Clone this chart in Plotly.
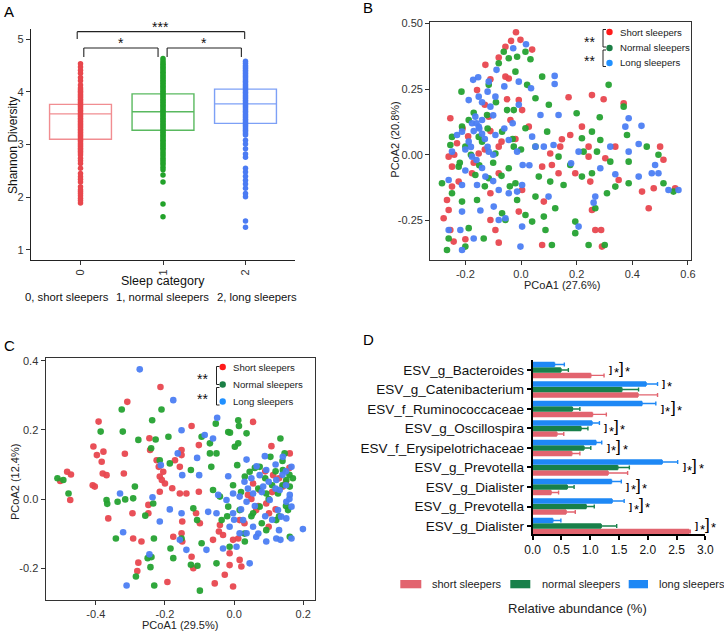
import plotly.graph_objects as go

W, H = 724, 632
FONT = "Arial, Liberation Sans, Helvetica, sans-serif"


def px(x):
    return x / W


def py(y):
    return 1 - y / H


# ---------------- Panel A data ----------------
a_categories = [0, 1, 2]
a_tick_labels = ["0", "1", "2"]
a_group_labels = ["0, short sleepers", "1, normal sleepers", "2, long sleepers"]
a_q1 = [3.10, 3.27, 3.40]
a_median = [3.58, 3.62, 3.77]
a_q3 = [3.76, 3.96, 4.05]
a_short = [1.89, 1.94, 1.98, 2.03, 2.07, 2.11, 2.14, 2.20, 2.29, 2.34, 2.39, 2.45, 2.55, 2.64,
           2.69, 2.74, 2.80, 2.84, 2.87, 2.90, 2.93, 2.96, 2.99, 3.02, 3.05, 3.08, 3.11, 3.14,
           3.17, 3.20, 3.23, 3.26, 3.29, 3.32, 3.35, 3.38, 3.41, 3.44, 3.47, 3.50, 3.53, 3.56,
           3.59, 3.62, 3.65, 3.68, 3.71, 3.74, 3.77, 3.80, 3.83, 3.86, 3.89, 3.92, 3.95, 3.98,
           4.01, 4.04, 4.07, 4.13, 4.21, 4.27, 4.35, 4.41, 4.47, 4.53]
a_normal = [1.63, 1.87, 2.29, 2.42, 2.52, 2.57, 2.62, 2.66, 2.70, 2.74, 2.78, 2.82, 2.86, 2.90,
            2.93, 2.96, 2.99, 3.02, 3.05, 3.08, 3.11, 3.14, 3.17, 3.20, 3.23, 3.26, 3.29, 3.32,
            3.35, 3.38, 3.41, 3.44, 3.47, 3.50, 3.53, 3.56, 3.59, 3.62, 3.65, 3.68, 3.71, 3.74,
            3.77, 3.80, 3.83, 3.86, 3.89, 3.92, 3.95, 3.98, 4.01, 4.04, 4.07, 4.10, 4.13, 4.16,
            4.19, 4.22, 4.25, 4.28, 4.31, 4.34, 4.37, 4.40, 4.43, 4.46, 4.49, 4.52, 4.55, 4.59,
            4.63]
a_long = [1.43, 1.55, 2.01, 2.07, 2.17, 2.25, 2.32, 2.40, 2.48, 2.55, 2.76, 2.82, 2.92, 3.01,
          3.08, 3.18, 3.21, 3.24, 3.27, 3.30, 3.33, 3.36, 3.39, 3.42, 3.45, 3.48, 3.51, 3.54,
          3.57, 3.60, 3.63, 3.66, 3.69, 3.72, 3.75, 3.78, 3.81, 3.84, 3.87, 3.90, 3.93, 3.96,
          3.99, 4.02, 4.05, 4.08, 4.11, 4.14, 4.17, 4.20, 4.23, 4.26, 4.29, 4.32, 4.35, 4.38,
          4.41, 4.44, 4.47, 4.50, 4.54, 4.58]
a_sig_from = [0, 1, 0]
a_sig_to = [1, 2, 2]
a_sig_text = ["*", "*", "***"]
a_sig_level = [4.83, 4.83, 5.14]
a_sig_leg = [4.66, 4.66, 5.00]

# ---------------- Panel B data (PCoA1, PCoA2) ----------------
b_short = [(-0.018, 0.466), (-0.002, 0.437), (-0.036, 0.433), (-0.056, 0.411), (-0.08, 0.37),
           (-0.128, 0.342), (0.04, 0.40), (-0.056, 0.297), (-0.044, 0.29), (-0.11, 0.287),
           (-0.158, 0.246), (-0.05, 0.211), (-0.008, 0.208), (0.004, 0.17), (0.171, 0.219),
           (0.255, 0.227), (0.297, 0.211), (0.369, 0.196), (-0.254, 0.139), (0.219, 0.107),
           (-0.116, 0.145), (-0.038, 0.132), (0.028, 0.107), (-0.23, 0.044), (0.147, 0.059),
           (0.177, 0.075), (0.243, 0.031), (0.339, 0.031), (0.50, 0.031), (-0.26, -0.007),
           (-0.152, 0.005), (-0.08, 0.031), (0.105, 0.005), (0.111, -0.039), (0.243, -0.007),
           (0.303, -0.013), (0.512, -0.019), (-0.248, -0.045), (-0.224, -0.102), (-0.248, -0.121),
           (-0.176, -0.07), (-0.08, -0.07), (0.076, -0.045), (0.135, -0.07), (0.249, -0.102),
           (0.351, -0.096), (0.435, -0.14), (0.477, -0.127), (0.554, -0.127), (-0.266, -0.172),
           (-0.26, -0.21), (-0.278, -0.241), (-0.254, -0.286), (-0.242, -0.33), (-0.20, -0.321),
           (-0.11, -0.146), (-0.11, -0.248), (-0.092, -0.286), (-0.08, -0.334), (-0.008, -0.216),
           (0.004, -0.134), (0.082, -0.178), (0.076, -0.343), (0.255, -0.21), (0.267, -0.286),
           (0.288, -0.286), (0.291, -0.349), (0.459, -0.203), (0.195, -0.07), (0.141, 0.031),
           (-0.19, 0.07), (-0.13, 0.02), (-0.17, -0.03), (-0.11, 0.09), (-0.07, 0.05),
           (-0.21, 0.10), (-0.24, 0.0), (-0.13, 0.19), (-0.02, 0.06)]
b_normal = [(-0.062, 0.392), (-0.044, 0.367), (-0.014, 0.373), (0.016, 0.392), (0.034, 0.363),
            (-0.08, 0.348), (-0.02, 0.316), (0.076, 0.297), (0.022, 0.266), (-0.116, 0.266),
            (-0.214, 0.24), (0.315, 0.266), (0.10, 0.19), (0.20, 0.158), (0.283, 0.143),
            (0.369, 0.183), (0.052, 0.215), (-0.026, 0.17), (-0.122, 0.151), (-0.188, 0.132),
            (-0.248, 0.068), (-0.212, 0.107), (-0.152, 0.068), (-0.068, 0.088), (0.016, 0.101),
            (0.094, 0.088), (0.219, 0.063), (0.255, 0.088), (0.285, 0.056), (0.381, 0.075),
            (-0.254, 0.037), (-0.20, 0.031), (-0.092, 0.005), (-0.026, 0.031), (0.052, 0.031),
            (0.135, -0.007), (0.225, 0.012), (0.273, 0.012), (0.321, -0.026), (0.387, -0.026),
            (0.452, 0.031), (0.494, 0.0), (-0.284, -0.108), (-0.224, -0.045), (-0.164, -0.077),
            (-0.116, -0.089), (-0.044, -0.051), (-0.02, -0.108), (0.064, -0.083), (0.105, -0.102),
            (0.153, -0.115), (0.177, -0.039), (0.219, -0.083), (0.255, -0.07), (0.309, -0.146),
            (0.339, -0.121), (0.387, -0.108), (0.512, -0.108), (0.548, -0.14), (-0.248, -0.146),
            (-0.212, -0.178), (-0.158, -0.172), (-0.26, -0.318), (-0.266, -0.362), (-0.188, -0.279),
            (-0.20, -0.349), (-0.134, -0.318), (-0.068, -0.222), (-0.056, -0.248), (-0.014, -0.172),
            (0.04, -0.254), (0.052, -0.159), (0.088, -0.286), (0.082, -0.235), (0.111, -0.343),
            (0.123, -0.203), (0.195, -0.254), (0.195, -0.298), (0.267, -0.203), (0.243, -0.343),
            (0.301, -0.343), (0.016, -0.229), (-0.17, 0.16), (-0.14, 0.05), (-0.12, 0.10),
            (-0.18, 0.0), (-0.10, -0.03), (-0.07, -0.08), (-0.13, -0.12), (-0.03, 0.06),
            (-0.09, 0.20), (-0.05, 0.17), (-0.22, -0.03), (-0.15, -0.04), (-0.04, -0.12),
            (0.0, 0.02)]
b_long = [(0.018, 0.42), (-0.028, 0.405), (-0.088, 0.323), (-0.154, 0.295), (-0.172, 0.285),
          (-0.116, 0.278), (-0.008, 0.278), (0.036, 0.253), (0.121, 0.30), (0.121, 0.269),
          (-0.188, 0.208), (-0.152, 0.221), (-0.092, 0.221), (-0.11, 0.183), (-0.008, 0.19),
          (0.07, 0.151), (0.135, 0.151), (-0.164, 0.145), (-0.152, 0.107), (-0.176, 0.12),
          (-0.14, 0.132), (-0.23, 0.075), (-0.212, 0.088), (-0.188, 0.05), (-0.092, 0.075),
          (-0.044, 0.056), (0.04, 0.069), (0.052, 0.031), (0.117, 0.037), (0.321, 0.031),
          (0.375, 0.107), (0.387, 0.139), (0.433, 0.11), (0.387, 0.012), (0.423, 0.041),
          (-0.248, 0.012), (-0.176, -0.007), (-0.116, 0.012), (-0.014, 0.012), (0.006, -0.039),
          (0.03, -0.04), (0.082, 0.031), (0.18, -0.032), (0.207, 0.012), (0.285, -0.051),
          (0.339, -0.074), (0.423, -0.083), (0.482, -0.039), (0.494, -0.07), (0.47, -0.07),
          (0.566, -0.134), (0.53, -0.134), (-0.26, -0.096), (-0.212, -0.115), (-0.158, -0.115),
          (-0.128, -0.083), (-0.08, -0.134), (0.004, -0.115), (-0.212, -0.216), (-0.146, -0.212),
          (-0.098, -0.197), (-0.044, -0.146), (-0.014, -0.14), (-0.08, -0.248), (-0.056, -0.241),
          (0.004, -0.273), (-0.26, -0.286), (-0.218, -0.286), (-0.17, -0.318), (-0.212, -0.362),
          (-0.002, -0.349), (0.207, -0.273), (0.261, -0.182), (0.267, -0.159), (0.099, -0.159),
          (-0.16, 0.12), (-0.15, 0.10), (-0.17, 0.09), (-0.14, 0.08), (-0.13, 0.06),
          (-0.20, 0.02), (-0.18, 0.03), (-0.12, 0.03), (-0.10, 0.0), (-0.16, -0.02),
          (-0.14, -0.05), (-0.20, -0.06), (-0.10, -0.10), (-0.06, 0.10), (-0.10, 0.15),
          (-0.12, 0.24), (-0.14, 0.20), (-0.06, 0.26), (-0.03, 0.12)]

# ---------------- Panel C data (PCoA1, PCoA2) ----------------
c_short = [(-0.213, 0.324), (-0.309, 0.281), (-0.392, 0.224), (-0.407, 0.152), (-0.397, 0.127),
           (-0.378, 0.137), (-0.383, 0.108), (-0.38, 0.074), (-0.369, 0.069), (-0.409, 0.04),
           (-0.403, 0.036), (-0.503, 0.052), (-0.472, 0.071), (-0.483, 0.079), (-0.474, -0.003),
           (-0.364, -0.056), (-0.316, 0.131), (-0.319, 0.074), (-0.294, -0.041), (-0.292, -0.114),
           (-0.268, -0.123), (-0.248, -0.041), (-0.277, -0.184), (-0.28, -0.208), (-0.193, -0.24),
           (-0.218, 0.093), (-0.215, 0.065), (-0.205, 0.079), (-0.209, 0.055), (-0.224, 0.112),
           (-0.20, 0.045), (-0.215, 0.021), (-0.245, 0.176), (-0.243, 0.142), (-0.248, -0.017),
           (-0.171, 0.112), (-0.157, 0.093), (-0.152, 0.127), (-0.152, 0.142), (-0.179, 0.031),
           (-0.157, 0.016), (-0.123, 0.211), (-0.102, 0.156), (-0.102, 0.021), (-0.11, -0.041),
           (-0.138, 0.016), (-0.15, -0.065), (-0.176, -0.109), (-0.152, -0.099), (-0.15, -0.123),
           (-0.123, -0.167), (-0.118, -0.20), (-0.056, -0.244), (-0.013, -0.191), (-0.027, -0.219),
           (-0.003, -0.253), (0.016, -0.176), (0.021, -0.195), (-0.013, -0.157), (-0.044, -0.094),
           (-0.041, -0.075), (-0.061, -0.118), (-0.032, -0.104), (-0.003, -0.118), (0.012, -0.114),
           (0.055, 0.223), (0.108, 0.153), (0.161, 0.132), (0.055, 0.045), (0.074, 0.026),
           (0.093, -0.013), (0.113, 0.069), (0.141, 0.036), (0.064, -0.032), (0.04, 0.012),
           (0.101, -0.041), (0.016, -0.061), (-0.099, -0.07), (0.11, 0.02), (0.13, 0.06),
           (0.09, 0.08), (0.15, 0.05), (0.07, -0.02), (0.12, -0.03), (0.05, 0.0),
           (0.03, -0.07), (0.10, -0.08), (0.16, 0.09)]
c_normal = [(-0.511, 0.06), (-0.494, 0.055), (-0.479, 0.016), (-0.325, 0.259), (-0.386, 0.195),
            (-0.322, 0.195), (-0.287, 0.036), (-0.292, 0.002), (-0.369, -0.003), (-0.367, -0.014),
            (-0.315, -0.001), (-0.337, -0.008), (-0.342, -0.114), (-0.237, 0.228), (-0.21, 0.259),
            (-0.277, 0.171), (-0.227, 0.172), (-0.24, 0.147), (-0.19, 0.18), (-0.215, 0.112),
            (-0.186, 0.103), (-0.125, 0.084), (-0.257, -0.048), (-0.234, -0.013), (-0.232, -0.114),
            (-0.25, -0.171), (-0.239, -0.168), (-0.242, -0.197), (-0.284, -0.224), (-0.231, -0.25),
            (-0.184, -0.143), (-0.176, -0.171), (-0.152, -0.114), (-0.118, -0.027), (-0.107, -0.061),
            (-0.125, -0.19), (-0.106, -0.193), (-0.099, -0.265), (-0.094, -0.128), (-0.051, -0.186),
            (-0.094, 0.18), (-0.07, 0.161), (-0.07, 0.132), (-0.066, 0.093), (-0.053, 0.218),
            (-0.051, 0.132), (-0.017, 0.194), (-0.012, 0.192), (0.002, 0.151), (0.012, 0.161),
            (0.012, 0.228), (0.014, 0.211), (0.036, 0.19), (0.009, 0.098), (-0.061, 0.026),
            (-0.041, 0.007), (-0.017, -0.022), (-0.003, 0.04), (0.031, 0.065), (0.045, 0.079),
            (0.074, 0.093), (0.105, 0.122), (0.134, 0.175), (0.141, 0.084), (0.146, 0.132),
            (0.151, 0.055), (0.17, 0.06), (0.161, 0.036), (0.127, 0.016), (0.093, 0.016),
            (0.074, -0.022), (0.055, -0.041), (0.122, -0.061), (0.093, -0.09), (0.156, -0.032),
            (0.161, -0.109), (0.031, -0.123), (-0.013, -0.138), (0.016, -0.032), (-0.036, -0.061),
            (0.12, 0.08), (0.14, 0.04), (0.16, 0.07), (0.10, 0.0), (0.09, 0.06),
            (0.07, 0.03), (0.15, -0.02), (0.13, -0.05), (0.11, 0.04), (0.05, -0.05),
            (0.03, -0.10), (0.08, -0.07), (0.14, 0.11), (0.06, 0.09), (0.02, 0.02),
            (-0.02, -0.05)]
c_long = [(-0.273, 0.375), (-0.176, 0.286), (-0.049, 0.235), (-0.152, 0.199), (-0.085, 0.185),
          (-0.061, 0.175), (-0.163, 0.132), (-0.107, 0.119), (-0.212, 0.098), (-0.15, 0.069),
          (-0.101, 0.069), (-0.017, 0.066), (0.036, 0.114), (0.065, 0.095), (0.089, 0.124),
          (0.141, 0.122), (0.166, 0.093), (0.093, 0.084), (0.074, 0.069), (0.122, 0.055),
          (-0.33, 0.016), (-0.236, 0.005), (-0.186, -0.03), (-0.215, -0.065), (-0.152, -0.041),
          (-0.321, -0.096), (-0.245, -0.16), (-0.311, -0.25), (-0.157, -0.118), (-0.138, -0.147),
          (-0.075, -0.037), (-0.051, -0.041), (-0.08, -0.147), (-0.032, -0.143), (0.007, -0.138),
          (-0.046, 0.012), (-0.022, -0.003), (-0.003, 0.016), (0.016, 0.007), (0.036, -0.008),
          (0.055, 0.016), (0.084, 0.036), (0.103, -0.003), (0.132, 0.026), (0.151, -0.008),
          (0.161, 0.012), (-0.003, -0.041), (0.026, -0.061), (0.055, -0.08), (0.064, -0.109),
          (0.093, -0.123), (0.045, -0.186), (0.036, -0.099), (0.122, -0.114), (0.127, -0.032),
          (0.136, -0.051), (0.151, -0.056), (0.166, -0.022), (0.199, -0.087), (0.134, -0.118),
          (0.166, -0.114), (0.016, -0.099), (-0.013, -0.08), (0.10, 0.05), (0.12, 0.03),
          (0.14, 0.07), (0.15, 0.04), (0.08, 0.02), (0.06, -0.02), (0.11, -0.06),
          (0.13, -0.09), (0.09, -0.05), (0.04, 0.03), (0.02, -0.03), (0.16, 0.0),
          (0.05, 0.06), (0.07, -0.10), (0.15, 0.08), (0.12, 0.10), (0.0, -0.06),
          (0.03, 0.05)]

pcoa_labels = ["Short sleepers", "Normal sleepers", "Long sleepers"]
b_tickvals_x = [-0.2, 0.0, 0.2, 0.4, 0.6]
b_ticktext_x = ["-0.2", "0.0", "0.2", "0.4", "0.6"]
b_tickvals_y = [-0.25, 0.0, 0.25, 0.50]
b_ticktext_y = ["-0.25", "0.00", "0.25", "0.50"]
c_tickvals_x = [-0.4, -0.2, 0.0, 0.2]
c_ticktext_x = ["-0.4", "-0.2", "0.0", "0.2"]
c_tickvals_y = [-0.2, 0.0, 0.2, 0.4]
c_ticktext_y = ["-0.2", "0.0", "0.2", "0.4"]

# ---------------- Panel D data (top to bottom) ----------------
d_taxa = ["ESV_g_Bacteroides", "ESV_g_Catenibacterium", "ESV_f_Ruminococcaceae",
          "ESV_g_Oscillospira", "ESV_f_Erysipelotrichaceae", "ESV_g_Prevotella",
          "ESV_g_Dialister", "ESV_g_Prevotella", "ESV_g_Dialister"]
d_short = [1.01, 1.83, 1.04, 0.42, 0.68, 1.31, 0.32, 0.58, 2.72]
d_short_err = [0.23, 0.34, 0.24, 0.12, 0.14, 0.34, 0.13, 0.16, 0.02]
d_normal = [0.49, 1.55, 0.69, 0.84, 0.89, 1.48, 0.60, 0.93, 1.19]
d_normal_err = [0.13, 0.29, 0.13, 0.12, 0.12, 0.20, 0.12, 0.14, 0.27]
d_long = [0.38, 1.97, 1.90, 1.03, 1.10, 2.25, 1.37, 1.38, 0.35]
d_long_err = [0.17, 0.20, 0.24, 0.13, 0.10, 0.27, 0.17, 0.21, 0.14]
d_sig_pair = ["*"] * 9
d_sig_all = ["*", "", "*", "*", "*", "*", "*", "*", "*"]
d_sig_pair_raise = [0.0, 0.3, 0.0, 0.0, 0.0, 0.0, 0.0, 0.0, 0.0]
d_group_labels = ["short sleepers", "normal sleepers", "long sleepers"]
d_xticks = [0.0, 0.5, 1.0, 1.5, 2.0, 2.5, 3.0]
d_xticktext = ["0.0", "0.5", "1.0", "1.5", "2.0", "2.5", "3.0"]

# ---------------- colours ----------------
A_PT = ["#E8474D", "#22A22A", "#4B7BF3"]
A_BOX = ["rgba(232,71,77,0.62)", "rgba(34,162,42,0.75)", "rgba(75,123,243,0.72)"]
P_PT = ["#E8474F", "#25A232", "#4C7EF3"]
LEG_DOT = ["#FF1A1A", "#1B7F45", "#2090FF"]
D_COL = ["#E2646F", "#18804A", "#1E88F5"]

fig = go.Figure()

# ---- Panel A traces ----
for i, vals in enumerate([a_short, a_normal, a_long]):
    fig.add_trace(go.Box(
        x=[a_categories[i]], q1=[a_q1[i]], median=[a_median[i]], q3=[a_q3[i]],
        lowerfence=[a_q1[i]], upperfence=[a_q3[i]], width=0.75,
        line=dict(color=A_BOX[i], width=1.4), fillcolor="rgba(0,0,0,0)",
        xaxis="x", yaxis="y", showlegend=False, hoverinfo="skip"))
for i, vals in enumerate([a_short, a_normal, a_long]):
    fig.add_trace(go.Scatter(
        x=[a_categories[i]] * len(vals), y=vals, mode="markers",
        marker=dict(size=5.5, color=A_PT[i], line=dict(width=0)),
        xaxis="x", yaxis="y", showlegend=False, hoverinfo="skip"))

# ---- Panel B / C traces ----
for series, xa, ya in [((b_short, b_normal, b_long), "x2", "y2"),
                       ((c_short, c_normal, c_long), "x3", "y3")]:
    for i, pts in enumerate(series):
        xs = [p[0] for p in pts]
        ys = [p[1] for p in pts]
        fig.add_trace(go.Scatter(
            x=xs, y=ys, mode="markers", name=pcoa_labels[i],
            marker=dict(size=6.6, color=P_PT[i], opacity=0.95, line=dict(width=0)),
            xaxis=xa, yaxis=ya, showlegend=False, hoverinfo="skip"))

# ---- Panel D traces ----
n = len(d_taxa)
d_y = [n - 1 - k for k in range(n)]
for i, (vals, errs) in enumerate([(d_short, d_short_err), (d_normal, d_normal_err),
                                   (d_long, d_long_err)]):
    fig.add_trace(go.Bar(
        x=vals, y=d_y, orientation="h", name=d_group_labels[i],
        marker=dict(color=D_COL[i], line=dict(width=0)),
        error_x=dict(type="data", array=errs, arrayminus=[0] * n, symmetric=False,
                     color=D_COL[i], thickness=1.4, width=2),
        xaxis="x4", yaxis="y4", showlegend=False, hoverinfo="skip"))

annotations = []
shapes = []


def txt(x, y, text, size, xanchor="center", yanchor="middle", color="#111", angle=0,
        xref="paper", yref="paper", yshift=0, xshift=0):
    annotations.append(dict(x=x, y=y, xref=xref, yref=yref, text=text, showarrow=False,
                            xanchor=xanchor, yanchor=yanchor, textangle=angle, yshift=yshift,
                            xshift=xshift, font=dict(family=FONT, size=size, color=color)))


def line(x0, y0, x1, y1, color="#222", width=1.2, xref="paper", yref="paper"):
    shapes.append(dict(type="line", x0=x0, y0=y0, x1=x1, y1=y1, xref=xref, yref=yref,
                       line=dict(color=color, width=width)))


# panel letters
txt(px(2), py(12), "A", 15, xanchor="left", color="#000")
txt(px(361), py(8), "B", 15, xanchor="left", color="#000")
txt(px(2), py(345), "C", 15, xanchor="left", color="#000")
txt(px(361), py(339), "D", 15, xanchor="left", color="#000")

# ---- Panel A labels ----
txt(px(13), py(146), "Shannon Diversity", 12, angle=-90)
txt(px(163), py(281), "Sleep category", 12.5)
for cx, lab in zip([66.7, 162.8, 256.7], a_group_labels):
    txt(px(cx), py(297), lab, 11.3)
insets = [(0.04, -0.06), (0.05, -0.05), (-0.04, -0.01)]
for k in range(3):
    x0 = a_categories[a_sig_from[k]] + insets[k][0]
    x1 = a_categories[a_sig_to[k]] + insets[k][1]
    lvl, leg = a_sig_level[k], a_sig_leg[k]
    line(x0, lvl, x1, lvl, xref="x", yref="y", width=1.1)
    line(x0, lvl, x0, leg, xref="x", yref="y", width=1.1)
    line(x1, lvl, x1, leg, xref="x", yref="y", width=1.1)
    txt((x0 + x1) / 2, lvl, a_sig_text[k], 14, yanchor="bottom", xref="x", yref="y",
        yshift=-5, color="#111")

# ---- Panel B labels / legend ----
txt(px(562), py(285), "PCoA1 (27.6%)", 11, color="#222")
txt(px(394.7), py(140), "PCoA2 (20.8%)", 11, angle=-90, color="#222")


def pcoa_legend(dot_x, rows, text_x, star_x, star_rows, br_x, br_segments):
    for i, ry in enumerate(rows):
        r = 3.2
        shapes.append(dict(type="circle", xref="paper", yref="paper",
                           x0=px(dot_x - r), x1=px(dot_x + r), y0=py(ry + r), y1=py(ry - r),
                           fillcolor=LEG_DOT[i], line=dict(width=0)))
        txt(px(text_x), py(ry), pcoa_labels[i], 9.6, xanchor="left", color="#222")
    for sy in star_rows:
        txt(px(star_x), py(sy), "**", 14, color="#111", yshift=-4)
    for (s0, s1) in br_segments:
        line(px(br_x), py(s0), px(br_x), py(s1), width=1)
        line(px(br_x), py(s0), px(br_x + 3), py(s0), width=1)
        line(px(br_x), py(s1), px(br_x + 3), py(s1), width=1)


pcoa_legend(609.5, [32, 48, 63], 618, 589, [38, 57], 603, [(29.5, 47), (50, 66.5)])

# ---- Panel C labels / legend ----
txt(px(180.3), py(625), "PCoA1 (29.5%)", 11, color="#222")
txt(px(15), py(482), "PCoA2 (12.4%)", 11, angle=-90, color="#222")
pcoa_legend(222.7, [367, 384.5, 401.5], 230.5, 203, [375, 395], 216.5,
            [(366.5, 384.5), (387.5, 405)])

# ---- Panel D legend, title, significance ----
sw = [(400.3, 421.3), (510.3, 530.3), (628.7, 648.0)]
lx = [430, 539.5, 657]
for i in range(3):
    shapes.append(dict(type="rect", xref="paper", yref="paper",
                       x0=px(sw[i][0]), x1=px(sw[i][1]), y0=py(588.3), y1=py(580),
                       fillcolor=D_COL[i], line=dict(width=0)))
    txt(px(lx[i]), py(584), d_group_labels[i], 11, xanchor="left", color="#222")
txt(px(577), py(608), "Relative abundance (%)", 13, color="#222")

for k in range(n):
    top = max(d_short[k] + d_short_err[k], d_normal[k] + d_normal_err[k],
              d_long[k] + d_long_err[k])
    xb = top + 0.05
    yy = d_y[k] + d_sig_pair_raise[k]
    txt(xb, yy, "<b>]</b>", 9, xanchor="left", xref="x4", yref="y4", color="#000")
    txt(xb, yy, d_sig_pair[k], 13, xanchor="left", xref="x4", yref="y4",
        color="#000", yshift=-3, xshift=4.6)
    if d_sig_all[k]:
        txt(xb, d_y[k] + 0.1, "]", 17, xanchor="left", xref="x4", yref="y4",
            color="#000", xshift=9.8)
        txt(xb, d_y[k] + 0.1, d_sig_all[k], 13, xanchor="left", xref="x4",
            yref="y4", color="#000", yshift=-3, xshift=16.1)

TICKF = dict(family=FONT, size=11, color="#333")
common = dict(showgrid=False, zeroline=False, ticks="outside", ticklen=4, tickwidth=1,
              tickcolor="#333", showline=True, tickfont=TICKF, automargin=False)

fig.update_layout(
    width=W, height=H, autosize=False,
    margin=dict(l=0, r=0, t=0, b=0, pad=0, autoexpand=False),
    paper_bgcolor="white", plot_bgcolor="white",
    font=dict(family=FONT, color="#222"),
    barmode="group", bargap=0.16, bargroupgap=0.0,
    showlegend=False,
    xaxis=dict(domain=[px(31), px(295)], range=[-0.6, 2.6], anchor="y",
               tickvals=a_categories, ticktext=a_tick_labels, tickangle=-90,
               linecolor="#222", linewidth=1.2, **common),
    yaxis=dict(domain=[py(260), py(29)], range=[0.81, 5.19], anchor="x",
               tickvals=[1, 2, 3, 4, 5], linecolor="#222", linewidth=1.2, **common),
    xaxis2=dict(domain=[px(430.3), px(691)], range=[-0.326, 0.611], anchor="y2",
                tickvals=b_tickvals_x, ticktext=b_ticktext_x, mirror=True,
                linecolor="#333", linewidth=1.4, **common),
    yaxis2=dict(domain=[py(260), py(21.7)], range=[-0.40, 0.506], anchor="x2",
                tickvals=b_tickvals_y, ticktext=b_ticktext_y, mirror=True,
                linecolor="#333", linewidth=1.4, **common),
    xaxis3=dict(domain=[px(45.7), px(315)], range=[-0.545, 0.234], anchor="y3",
                tickvals=c_tickvals_x, ticktext=c_ticktext_x, mirror=True,
                linecolor="#333", linewidth=1.4, **common),
    yaxis3=dict(domain=[py(600), py(358.3)], range=[-0.292, 0.407], anchor="x3",
                tickvals=c_tickvals_y, ticktext=c_ticktext_y, mirror=True,
                linecolor="#333", linewidth=1.4, **common),
    xaxis4=dict(domain=[px(532.7), px(705.3)], range=[0, 3.0], anchor="y4",
                tickvals=d_xticks, ticktext=d_xticktext, showgrid=False, zeroline=False,
                showline=True, linecolor="#000", linewidth=2, ticks="outside", ticklen=4,
                tickwidth=1.5, tickcolor="#000", automargin=False,
                tickfont=dict(family=FONT, size=12, color="#111")),
    yaxis4=dict(domain=[py(534), py(360)], range=[-0.41, 8.51], anchor="x4",
                tickvals=d_y, ticktext=d_taxa, showgrid=False, zeroline=False,
                showline=True, linecolor="#000", linewidth=2, ticks="outside", ticklen=4,
                tickwidth=1.5, tickcolor="#000", automargin=False,
                tickfont=dict(family=FONT, size=13.5, color="#111")),
    annotations=annotations,
    shapes=shapes,
)

fig.write_html("out.html", config={"displayModeBar": False},
               post_script="document.body.style.margin='0';document.body.style.padding='0';")
